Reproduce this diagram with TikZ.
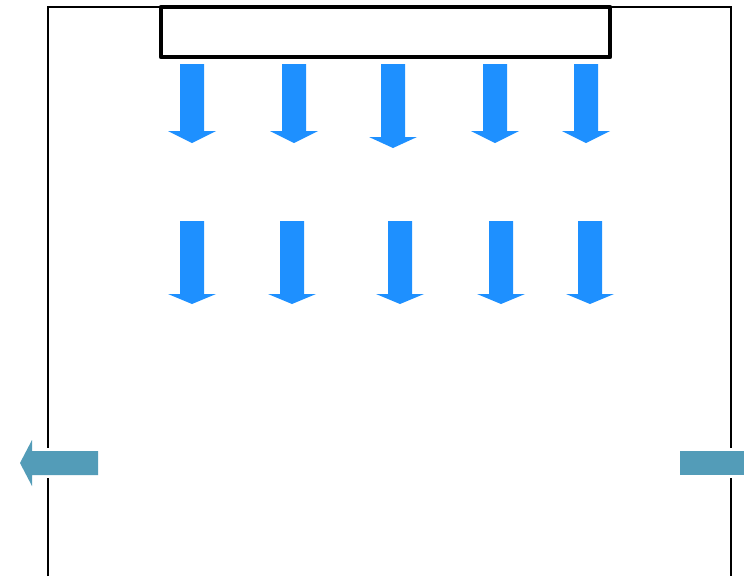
\documentclass[tikz,border=0pt]{standalone}
\definecolor{flowblue}{RGB}{30,144,255}
\definecolor{portteal}{RGB}{83,156,184}
\tikzset{
  frameline/.style={draw=black,line width=2.2pt},
  hoodline/.style={draw=black,line width=3.4pt,line join=round},
  flowarrow/.style={fill=flowblue,draw=none},
  portarrow/.style={fill=portteal,draw=none},
  portgap/.style={fill=white,draw=none},
}
% down arrow: center x, top y, head start y, tip y
\newcommand{\dnarrow}[4]{%
  \fill[flowarrow] (#1-12,#2) -- (#1+12,#2) -- (#1+12,#3) -- (#1+24,#3) -- (#1,#4) -- (#1-24,#3) -- (#1-12,#3) -- cycle;}
\begin{document}
\begin{tikzpicture}[x=0.75pt,y=-0.75pt]
\useasboundingbox (0,0) rectangle (744,576);
\fill[white] (0,0) rectangle (744,576);
% room frame
\draw[frameline] (48,576) -- (48,7) -- (731,7) -- (731,576);
% hood
\draw[hoodline,fill=white] (161,7) rectangle (610,57);
% row 1
\dnarrow{192}{64}{131}{143}
\dnarrow{294}{64}{131}{143}
\dnarrow{393}{64}{137}{148}
\dnarrow{495}{64}{131}{143}
\dnarrow{586}{64}{131}{143}
% row 2
\dnarrow{192}{221}{294}{304}
\dnarrow{292}{221}{294}{304}
\dnarrow{400}{221}{294}{304}
\dnarrow{501}{221}{294}{304}
\dnarrow{590}{221}{294}{304}
% gaps in the frame around the ports
\fill[portgap] (44,448) rectangle (52,478);
\fill[portgap] (727,448) rectangle (735,478);
% exhaust left
\fill[portarrow] (98,451) -- (98,475) -- (32,475) -- (32,486) -- (20,463) -- (32,440) -- (32,451) -- cycle;
% inlet right
\fill[portarrow] (680,451) rectangle (744,475);
\end{tikzpicture}
\end{document}
